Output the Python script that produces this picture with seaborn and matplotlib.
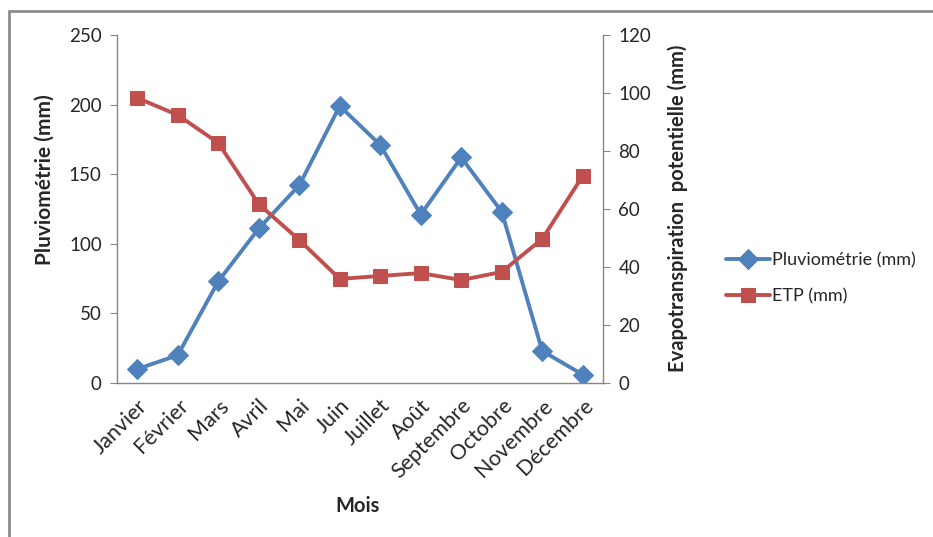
import matplotlib
matplotlib.use("Agg")
import matplotlib.pyplot as plt
import seaborn as sns
import pandas as pd
from matplotlib.patches import Rectangle

mois = ["Janvier", "Février", "Mars", "Avril", "Mai", "Juin", "Juillet",
        "Août", "Septembre", "Octobre", "Novembre", "Décembre"]
pluvio = [10, 20, 73, 111, 142, 199, 171, 121, 162, 123, 23, 6]
etp = [98.3, 92.4, 82.8, 61.7, 49.3, 35.9, 36.9, 37.9, 35.5, 38.3, 49.7, 71.4]

BLUE = "#4F81BD"
RED = "#C0504D"
TXT = "#262626"
GRIS = "#868686"

sns.set_style("white")
plt.rcParams["font.family"] = ["Lato", "DejaVu Sans"]

df = pd.DataFrame({"idx": range(len(mois)), "mois": mois,
                   "pluvio": pluvio, "etp": etp})

fig = plt.figure(figsize=(9.33, 5.37), dpi=100)
ax = fig.add_axes([117 / 933, 1 - 383 / 537, 486 / 933, 348 / 537])
ax2 = ax.twinx()

sns.lineplot(data=df, x="idx", y="pluvio", ax=ax, color=BLUE, lw=2.8,
             marker="D", markersize=10, markeredgecolor=BLUE,
             label="Pluviométrie (mm)", legend=False)
sns.lineplot(data=df, x="idx", y="etp", ax=ax2, color=RED, lw=2.8,
             marker="s", markersize=10.5, markeredgecolor=RED,
             label="ETP (mm)", legend=False)

ax.set_xlim(-0.5, len(mois) - 0.5)
ax.set_ylim(0, 250)
ax2.set_ylim(0, 120)
ax.set_yticks(range(0, 251, 50))
ax2.set_yticks(range(0, 121, 20))

ax.set_xticks(range(len(mois)))
ax.set_xticklabels(mois, rotation=45, ha="right", rotation_mode="anchor",
                   fontsize=15.5, color=TXT)
ax.set_xticks([i - 0.5 for i in range(len(mois) + 1)], minor=True)
ax.tick_params(axis="x", which="major", length=0, pad=9)
ax.tick_params(axis="x", which="minor", length=5, color=GRIS, direction="out")
ax.tick_params(axis="y", length=5, color=GRIS, direction="out",
               labelsize=13.5, labelcolor=TXT, pad=6)
ax2.tick_params(axis="y", length=5, color=GRIS, direction="out",
                labelsize=13.5, labelcolor=TXT, pad=6)

for a in (ax, ax2):
    for s in a.spines.values():
        s.set_visible(False)
    a.set_xlabel("")
ax.spines["left"].set_visible(True)
ax.spines["bottom"].set_visible(True)
ax2.spines["right"].set_visible(True)
for s in (ax.spines["left"], ax.spines["bottom"], ax2.spines["right"]):
    s.set_color(GRIS)
    s.set_linewidth(1)

ax.set_xlabel("Mois", fontsize=14.5, fontweight="bold", color=TXT)
ax.xaxis.set_label_coords(0.496, -0.325)
ax.set_ylabel("Pluviométrie (mm)", fontsize=15, fontweight="bold", color=TXT)
ax.yaxis.set_label_coords(-0.128, 0.583)
ax2.set_ylabel("Evapotranspiration  potentielle (mm)", fontsize=14.5,
               fontweight="bold", color=TXT)
ax2.yaxis.set_label_coords(1.132, 0.503)

h1, l1 = ax.get_legend_handles_labels()
h2, l2 = ax2.get_legend_handles_labels()
fig.legend(h1 + h2, l1 + l2, loc="center left", bbox_to_anchor=(710 / 933, 1 - 278 / 537),
           frameon=False, fontsize=13, handlelength=2.4, labelspacing=1.1,
           handletextpad=0.15, labelcolor=TXT)

# cadre du graphique
fig.patches.append(Rectangle((9 / 933, -0.1), 1.2, 1 - 11 / 537 + 0.1,
                             transform=fig.transFigure, fill=False,
                             edgecolor="#8c8c8c", lw=2))

fig.savefig("out.png", dpi=100)
